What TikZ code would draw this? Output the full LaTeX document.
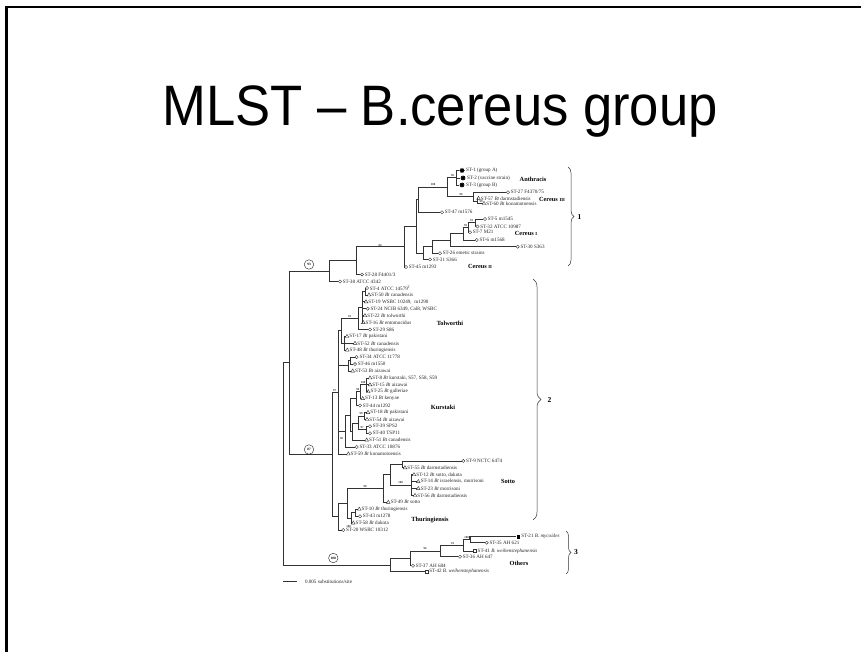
\documentclass[tikz,border=0pt]{standalone}
\usepackage{fontspec}
\setmainfont{Liberation Serif}
\newfontfamily\titlefont{Liberation Sans}
\usetikzlibrary{shapes.geometric,decorations.pathreplacing}

\tikzset{
  branch/.style={line width=0.65pt, draw=black!80},
  mcirc/.style={circle, draw=black!80, fill=white, line width=0.4pt, inner sep=0pt, minimum size=3.2pt},
  mtri/.style={regular polygon, regular polygon sides=3, draw=black!80, fill=white, line width=0.4pt, inner sep=0pt, minimum size=4.2pt},
  msq/.style={rectangle, draw=black!80, fill=white, line width=0.4pt, inner sep=0pt, minimum size=3pt},
  mfsq/.style={rectangle, fill=black, inner sep=0pt, minimum size=3.6pt},
  manth/.style={star, star points=8, star point ratio=1.6, fill=black, inner sep=0pt, minimum size=5.5pt},
  lab/.style={font=\fontsize{5.1}{5.5}\selectfont, inner sep=0.8pt, text=black!85},
  boot/.style={font=\fontsize{3}{3.4}\selectfont\bfseries, inner sep=0pt, text=black!80},
  ring/.style={circle, draw=black!80, line width=0.45pt, inner sep=0pt, minimum size=9.5pt, font=\fontsize{3.4}{4}\selectfont\bfseries},
  clade/.style={font=\fontsize{6.3}{7}\selectfont\bfseries, inner sep=0pt},
  grp/.style={font=\fontsize{7.5}{8}\selectfont\bfseries, inner sep=0pt},
  brc/.style={decorate, decoration={brace, amplitude=#1}, line width=0.5pt, draw=black!80},
}

% leaf: name, marker style, x, y, label text
\newcommand\leaf[5]{\node[#2, label={[lab]0:{#5}}] (#1) at (#3,#4) {};}
% elbow branch from a parent to a child
\newcommand\br[2]{\draw[branch] (#1) |- (#2);}

\begin{document}
\begin{tikzpicture}[x=1pt, y=-1pt]
\useasboundingbox (0,0) rectangle (861,652);

% slide frame
\draw[line width=2.7pt] (6.2,652) -- (6.2,7) -- (861,7);

% title
\node[font=\titlefont\fontsize{57}{64}\selectfont, anchor=base, xscale=0.923] (title) at (440,126) {MLST – B.cereus group};

% ---------------- clade 1 ----------------
\leaf{l1}{manth}{462}{170.5}{ST-1 (group A)}
\leaf{l2}{manth}{463}{178}{ST-2 (vaccine strain)}
\leaf{l3}{manth}{462}{185}{ST-3 (group B)}
\leaf{l27}{mcirc}{508}{192.3}{ST-27 F4370/75}
\leaf{l57}{mtri}{478.5}{198.3}{ST-57 \textit{Bt} darmstadiensis}
\leaf{l60}{mtri}{484}{203.5}{ST-60 \textit{Bt} konamotoensis}
\leaf{l47}{mcirc}{442}{212.3}{ST-47 m1576}
\leaf{l5}{mcirc}{485}{219}{ST-5 m1545}
\leaf{l32}{mcirc}{477.5}{226.5}{ST-32 ATCC 10987}
\leaf{l7}{mcirc}{470}{232.3}{ST-7 M21}
\leaf{l6}{mcirc}{476.7}{240}{ST-6 m1568}
\leaf{l30}{mcirc}{517.7}{246.7}{ST-30 S363}
\leaf{l26}{mcirc}{440}{253.3}{ST-26 emetic strains}
\leaf{l31}{mcirc}{430}{259.5}{ST-31 S366}
\leaf{l45}{mcirc}{406}{267}{ST-45 m1293}
\leaf{l28}{mcirc}{362}{274.4}{ST-28 F4401/3}
\leaf{l38}{mcirc}{340}{281.5}{ST-38 ATCC 4342}

\coordinate (nAN) at (456,177.8);
\coordinate (nC3b) at (477,200.9);
\coordinate (nC3) at (473,196.6);
\coordinate (nAC) at (447,187.2);
\coordinate (nD) at (418,199.8);
\coordinate (nC1a) at (475,222.8);
\coordinate (nC1b) at (468,227.5);
\coordinate (nC1c) at (463,233.8);
\coordinate (nC1d) at (450,240.2);
\coordinate (nC2a) at (432,246.8);
\coordinate (nC2b) at (423,253.1);
\coordinate (nCc) at (416,226.4);
\coordinate (nB) at (404,246.7);
\coordinate (nA) at (356,260.5);
\coordinate (nG1) at (329.5,271);

\br{nAN}{l1} \br{nAN}{l2} \br{nAN}{l3}
\br{nC3b}{l57} \br{nC3b}{l60}
\br{nC3}{l27} \br{nC3}{nC3b}
\br{nAC}{nAN} \br{nAC}{nC3}
\br{nD}{nAC} \br{nD}{l47}
\br{nC1a}{l5} \br{nC1a}{l32}
\br{nC1b}{nC1a} \br{nC1b}{l7}
\br{nC1c}{nC1b} \br{nC1c}{l6}
\br{nC1d}{nC1c} \br{nC1d}{l30}
\br{nC2a}{nC1d} \br{nC2a}{l26}
\br{nC2b}{nC2a} \br{nC2b}{l31}
\br{nCc}{nD} \br{nCc}{nC2b}
\br{nB}{nCc} \br{nB}{l45}
\br{nA}{nB} \br{nA}{l28}
\br{nG1}{nA} \br{nG1}{l38}

\node[boot] (b1) at (452.5,175.6) {96};
\node[boot] (b2) at (433,185) {100};
\node[boot] (b3) at (461,194.4) {96};
\node[boot] (b4) at (481,201.4) {99};
\node[boot] (b5) at (471.5,220.5) {91};
\node[boot] (b6) at (465.5,225.4) {93};
\node[boot] (b7) at (380,245.3) {84};

\node[clade] (cAnth) at (533,179) {Anthracis};
\node[clade] (cC3) at (552,199.5) {Cereus {\fontsize{4.6}{5}\selectfont III}};
\node[clade] (cC1) at (526,233.5) {Cereus {\fontsize{4.6}{5}\selectfont I}};
\node[clade] (cC2) at (480,266) {Cereus {\fontsize{4.6}{5}\selectfont II}};

% ---------------- clade 2 ----------------
\leaf{k0}{mcirc}{367}{288.0}{ST-4 ATCC 14579\textsuperscript{T}}
\leaf{k1}{mtri}{369}{294.9}{ST-50 \textit{Bt} canadensis}
\leaf{k2}{mtri}{366}{301.8}{ST-19 WSBC 10249,\ \ m1290}
\leaf{k3}{mcirc}{367.7}{308.7}{ST-24 NCIB 6349, Cal8, WSBC}
\leaf{k4}{mtri}{365}{315.7}{ST-22 \textit{Bt} tolworthi}
\leaf{k5}{mtri}{363.3}{322.6}{ST-16 \textit{Bt} entomocidus}
\leaf{k6}{mcirc}{370}{329.5}{ST-29 S86}
\leaf{k7}{mtri}{347}{336.4}{ST-17 \textit{Bt} pakistani}
\leaf{k8}{mtri}{355}{343.3}{ST-52 \textit{Bt} canadensis}
\leaf{k9}{mtri}{347.3}{350.2}{ST-48 \textit{Bt} thuringiensis}
\leaf{k10}{mcirc}{356.7}{357.1}{ST-34 ATCC 11778}
\leaf{k11}{mcirc}{355}{364.1}{ST-46 m1550}
\leaf{k12}{mtri}{352.7}{371.0}{ST-53 \textit{Bt} aizawai}
\leaf{k13}{mtri}{370}{377.9}{ST-8 \textit{Bt} kurstaki, S57, S58, S59}
\leaf{k14}{mtri}{370}{384.8}{ST-15 \textit{Bt} aizawai}
\leaf{k15}{mtri}{368.3}{391.7}{ST-25 \textit{Bt} galleriae}
\leaf{k16}{mtri}{362.7}{398.6}{ST-13 \textit{Bt} kenyae}
\leaf{k17}{mcirc}{360}{405.5}{ST-44 m1292}
\leaf{k18}{mtri}{368}{412.5}{ST-18 \textit{Bt} pakistani}
\leaf{k19}{mtri}{367}{419.4}{ST-54 \textit{Bt} aizawai}
\leaf{k20}{mcirc}{370}{426.3}{ST-39 SPS2}
\leaf{k21}{mcirc}{370}{433.2}{ST-40 TSP11}
\leaf{k22}{mtri}{366.7}{440.1}{ST-51 \textit{Bt} canadensis}
\leaf{k23}{mcirc}{356.7}{447.0}{ST-33 ATCC 10876}
\leaf{k24}{mtri}{348.3}{453.9}{ST-59 \textit{Bt} konamotoensis}
\leaf{k25}{mcirc}{463.3}{460.9}{ST-9 NCTC 6474}
\leaf{k26}{mtri}{405}{467.8}{ST-55 \textit{Bt} darmstadiensis}
\leaf{k27}{mtri}{414}{474.7}{ST-12 \textit{Bt} sotto, dakota}
\leaf{k28}{mtri}{418.3}{481.6}{ST-14 \textit{Bt} israelensis, morrisoni}
\leaf{k29}{mtri}{418.3}{488.5}{ST-23 \textit{Bt} morrisoni}
\leaf{k30}{mtri}{415}{495.4}{ST-56 \textit{Bt} darmstadiensis}
\leaf{k31}{mtri}{388.3}{502.3}{ST-49 \textit{Bt} sotto}
\leaf{k32}{mtri}{359.3}{509.2}{ST-10 \textit{Bt} thuringiensis}
\leaf{k33}{mcirc}{360}{516.2}{ST-43 m1278}
\leaf{k34}{mtri}{353.3}{523.1}{ST-58 \textit{Bt} dakota}
\leaf{k35}{mcirc}{343.3}{530.0}{ST-20 WSBC 10312}

\coordinate (nTw1) at (365,291.45);
\coordinate (nTw2) at (362.5,307);
\coordinate (nTw3) at (358,318.25);
\coordinate (nTp) at (344.5,343.3);
\coordinate (nTol) at (341,330.8);
\coordinate (nAi1) at (350.5,360.6);
\coordinate (nAi2) at (348,365.8);
\coordinate (nKa1) at (366.5,384.8);
\coordinate (nKa2) at (360,391.7);
\coordinate (nKa3) at (356,398.6);
\coordinate (nKb1) at (364,415.95);
\coordinate (nKb2) at (366,429.75);
\coordinate (nKb3) at (358,422.85);
\coordinate (nKb4) at (352,431.5);
\coordinate (nK1) at (350,415.05);
\coordinate (nK2) at (345,431);
\coordinate (nTK) at (338,392.35);
\coordinate (nS1) at (402,464.35);
\coordinate (nS2) at (411,484.95);
\coordinate (nS3) at (390,474.65);
\coordinate (nS4) at (383,488.5);
\coordinate (nTh1) at (355,512.7);
\coordinate (nTh2) at (351,517.9);
\coordinate (nT1) at (347,503.2);
\coordinate (nT2) at (338,516.6);
\coordinate (nG2) at (332,454.5);

\br{nTw1}{k0} \br{nTw1}{k1}
\br{nTw2}{nTw1} \br{nTw2}{k2} \br{nTw2}{k3} \br{nTw2}{k4} \br{nTw2}{k5}
\br{nTw3}{nTw2} \br{nTw3}{k6}
\br{nTp}{k7} \br{nTp}{k8} \br{nTp}{k9}
\br{nTol}{nTw3} \br{nTol}{nTp}
\br{nAi1}{k10} \br{nAi1}{k11}
\br{nAi2}{nAi1} \br{nAi2}{k12}
\br{nKa1}{k13} \br{nKa1}{k14} \br{nKa1}{k15}
\br{nKa2}{nKa1} \br{nKa2}{k16}
\br{nKa3}{nKa2} \br{nKa3}{k17}
\br{nKb1}{k18} \br{nKb1}{k19}
\br{nKb2}{k20} \br{nKb2}{k21}
\br{nKb3}{nKb1} \br{nKb3}{nKb2}
\br{nKb4}{nKb3} \br{nKb4}{k22}
\br{nK1}{nKa3} \br{nK1}{nKb4}
\br{nK2}{nK1} \br{nK2}{k23}
\br{nTK}{nTol} \br{nTK}{nAi2} \br{nTK}{nK2} \br{nTK}{k24}
\br{nS1}{k25} \br{nS1}{k26}
\br{nS2}{k27} \br{nS2}{k28} \br{nS2}{k29} \br{nS2}{k30}
\br{nS3}{nS1} \br{nS3}{nS2}
\br{nS4}{nS3} \br{nS4}{k31}
\br{nTh1}{k32} \br{nTh1}{k33}
\br{nTh2}{nTh1} \br{nTh2}{k34}
\br{nT1}{nS4} \br{nT1}{nTh2}
\br{nT2}{nT1} \br{nT2}{k35}
\br{nG2}{nTK} \br{nG2}{nT2}

\node[boot] (b8) at (349.5,316.1) {91};
\node[boot] (b9) at (363.2,382.7) {100};
\node[boot] (b10) at (357.8,389.6) {94};
\node[boot] (b11) at (361,413.9) {99};
\node[boot] (b12) at (362,427.6) {97};
\node[boot] (b13) at (341.6,439) {96};
\node[boot] (b14) at (334.5,390.2) {97};
\node[boot] (b15) at (365,486.3) {98};
\node[boot] (b16) at (400.5,482.8) {100};
\node[boot] (b17) at (348.5,526.3) {100};

\node[clade] (cTol) at (450,323) {Tolworthi};
\node[clade] (cKur) at (443,407) {Kurstaki};
\node[clade] (cSot) at (508,481.5) {Sotto};
\node[clade] (cThu) at (430,520.5) {Thuringiensis};

% ---------------- clade 3 ----------------
\leaf{o21}{mfsq}{518.3}{536.7}{ST-21 \textit{B. mycoides}}
\leaf{o35}{mcirc}{486.7}{542.7}{ST-35 AH 621}
\leaf{o41}{msq}{475}{551}{ST-41 \textit{B. weihenstephanensis}}
\leaf{o36}{mcirc}{460}{556.7}{ST-36 AH 647}
\leaf{o37}{mcirc}{413}{565.7}{ST-37 AH 684}
\leaf{o42}{msq}{426.7}{571.7}{ST-42 \textit{B. weihenstephanensis}}

\coordinate (nO5) at (470,539.7);
\coordinate (nO4) at (463,545.35);
\coordinate (nO3) at (440,551);
\coordinate (nO2) at (410,558.35);
\coordinate (nO1) at (390,565);

\draw[branch, line width=1.3pt] (nO5) |- (o21);
\br{nO5}{o35}
\br{nO4}{nO5} \br{nO4}{o41}
\br{nO3}{nO4} \br{nO3}{o36}
\br{nO2}{nO3} \br{nO2}{o37}
\br{nO1}{nO2} \br{nO1}{o42}

\node[boot] (b18) at (466.5,537.4) {100};
\node[boot] (b19) at (452.5,543.1) {91};
\node[boot] (b20) at (425,548.8) {96};

\node[clade] (cOth) at (519,563) {Others};

% ---------------- root ----------------
\coordinate (nRA) at (289,362.75);
\coordinate (nR) at (283,463.9);
\br{nRA}{nG1} \br{nRA}{nG2}
\br{nR}{nRA} \br{nR}{nO1}

\node[ring] (r93) at (309,264.5) {93};
\node[ring] (r87) at (309,449.5) {87};
\node[ring] (r100) at (333.3,558) {100};

% ---------------- clade braces ----------------
\coordinate (g1a) at (568,167); \coordinate (g1b) at (568,266);
\coordinate (g2a) at (533,279); \coordinate (g2b) at (533,520);
\coordinate (g3a) at (566,531); \coordinate (g3b) at (566,574);
\draw[brc=6pt] (g1a) -- (g1b);
\draw[brc=8pt] (g2a) -- (g2b);
\draw[brc=5pt] (g3a) -- (g3b);
\node[grp] (n1) at (579.5,217.5) {1};
\node[grp] (n2) at (549.5,400) {2};
\node[grp] (n3) at (576,552.5) {3};

% ---------------- scale bar ----------------
\coordinate (sb1) at (283,581.3);
\coordinate (sb2) at (297,581.3);
\draw[branch] (sb1) -- (sb2);
\node[lab, anchor=west] (sbt) at (304,581.5) {0.005 substitutions/site};
\end{tikzpicture}
\end{document}
